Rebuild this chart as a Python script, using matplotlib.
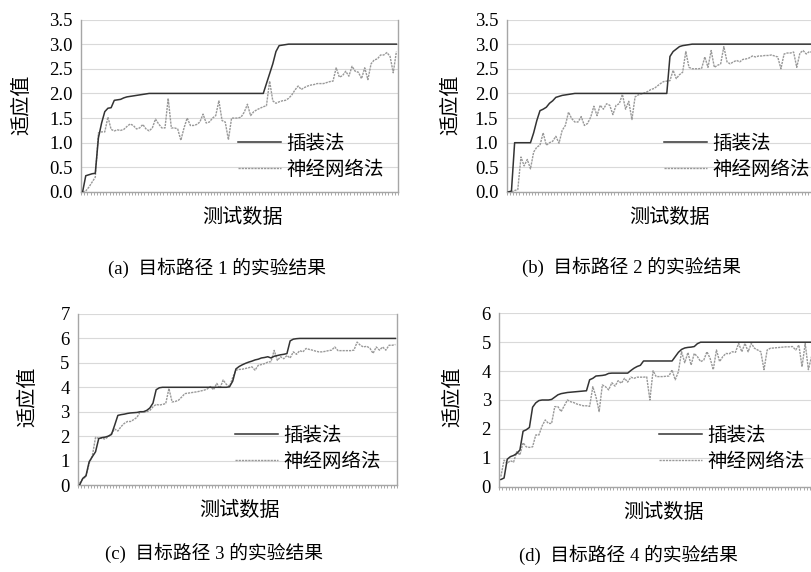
import matplotlib
matplotlib.use("Agg")
import matplotlib.pyplot as plt
import numpy as np
from matplotlib.ticker import FixedLocator

# fitness per test case, path 1
insert_1 = [0.0, 0.33, 0.35, 0.37, 0.38, 1.1, 1.4, 1.63, 1.7, 1.71,
            1.86, 1.87, 1.88, 1.91, 1.93, 1.94, 1.95, 1.96, 1.97, 1.98,
            1.99] + [2.0] * 37 + \
           [2.2, 2.4, 2.6, 2.85, 2.97, 2.98, 2.99] + [3.0] * 35
nn_1 = [0.0, 0.02, 0.1, 0.2, 0.3, 1.2, 1.22, 1.22, 1.52, 1.27,
        1.24, 1.26, 1.25, 1.27, 1.33, 1.38, 1.35, 1.28, 1.3, 1.37,
        1.28, 1.24, 1.3, 1.48, 1.38, 1.3, 1.3, 1.9, 1.3, 1.3,
        1.28, 1.05, 1.3, 1.5, 1.35, 1.35, 1.37, 1.42, 1.58, 1.4,
        1.42, 1.5, 1.55, 1.85, 1.45, 1.42, 1.06, 1.5, 1.5, 1.5,
        1.52, 1.62, 1.78, 1.55, 1.63, 1.67, 1.7, 1.73, 1.75, 2.25,
        1.85, 1.8, 1.83, 1.85, 1.86, 1.9, 1.97, 2.07, 2.15, 2.08,
        2.12, 2.15, 2.17, 2.18, 2.2, 2.2, 2.2, 2.22, 2.24, 2.25,
        2.52, 2.33, 2.36, 2.45, 2.35, 2.55, 2.45, 2.43, 2.3, 2.52,
        2.28, 2.6, 2.68, 2.7, 2.78, 2.78, 2.83, 2.75, 2.42, 2.85]

# path 2
insert_2 = [0.0, 0.02] + [1.0] * 6 + \
           [1.2, 1.45, 1.65, 1.68, 1.72, 1.8, 1.85, 1.92, 1.94, 1.96,
            1.97, 1.98, 1.99] + [2.0] * 30 + \
           [2.75, 2.85, 2.9, 2.95, 2.97, 2.98, 2.99] + [3.0] * 42
nn_2 = [0.0, 0.0, 0.03, 0.05, 0.71, 0.53, 0.66, 0.47, 0.81, 0.91,
        0.95, 1.2, 0.95, 1.0, 1.03, 1.13, 0.99, 1.25, 1.35, 1.62,
        1.49, 1.42, 1.42, 1.53, 1.35, 1.39, 1.52, 1.74, 1.55, 1.76,
        1.68, 1.79, 1.76, 1.57, 1.76, 1.79, 1.98, 1.68, 1.84, 1.47,
        1.93, 1.97, 1.99, 2.01, 2.04, 2.08, 2.1, 2.15, 2.2, 2.24,
        2.25, 2.26, 2.47, 2.3, 2.38, 2.43, 2.85, 2.53, 2.5, 2.5,
        2.5, 2.51, 2.74, 2.53, 2.87, 2.53, 2.57, 2.6, 2.95, 2.64,
        2.6, 2.64, 2.67, 2.64, 2.69, 2.7, 2.72, 2.76, 2.74, 2.76,
        2.76, 2.77, 2.77, 2.78, 2.76, 2.74, 2.5, 2.8, 2.82, 2.82,
        2.84, 2.53, 2.82, 2.87, 2.8, 2.85, 2.83, 2.85, 2.84, 2.86]

# path 3
insert_3 = [0.0, 0.27, 0.38, 0.95, 1.16, 1.36, 1.9, 1.94, 1.96, 2.0,
            2.07, 2.45, 2.85, 2.88, 2.9, 2.93, 2.95, 2.96, 2.97, 3.0,
            3.0, 3.05, 3.15, 3.35, 3.9, 3.98] + [4.0] * 21 + \
           [4.02, 4.25, 4.75, 4.85, 4.92, 4.98, 5.03, 5.07, 5.12, 5.15,
            5.2, 5.22, 5.25, 5.2, 5.27, 5.3, 5.33, 5.35, 5.38, 5.9,
            5.97, 5.99] + [6.0] * 31
nn_3 = [0.07, 0.25, 0.34, 0.89, 1.2, 1.95, 1.91, 1.91, 1.88, 1.98,
        2.11, 2.29, 2.21, 2.39, 2.52, 2.6, 2.6, 2.68, 2.77, 3.0,
        2.97, 3.0, 3.05, 3.2, 3.3, 3.27, 3.3, 3.33, 3.95, 3.4,
        3.42, 3.47, 3.6, 3.74, 3.76, 3.78, 3.8, 3.82, 3.85, 3.88,
        3.93, 4.03, 3.9, 4.16, 3.96, 4.3, 4.12, 4.03, 4.4, 4.7,
        4.73, 4.74, 4.77, 4.8, 4.84, 4.7, 4.9, 4.93, 4.97, 5.03,
        5.05, 5.51, 5.1, 5.25, 5.17, 5.3, 5.2, 5.45, 5.35, 5.5,
        5.45, 5.59, 5.55, 5.52, 5.48, 5.45, 5.45, 5.47, 5.5, 5.52,
        5.65, 5.5, 5.5, 5.5, 5.5, 5.5, 5.52, 5.85, 5.72, 5.65,
        5.68, 5.6, 5.39, 5.65, 5.52, 5.65, 5.52, 5.72, 5.72, 5.75]

# path 4
insert_4 = [0.25, 0.3, 0.95, 1.04, 1.08, 1.15, 1.27, 1.92, 1.97, 2.05,
            2.75, 2.9, 2.98, 3.0, 3.0, 3.0, 3.02, 3.1, 3.18, 3.22,
            3.24, 3.26, 3.27, 3.28, 3.29, 3.3, 3.31, 3.32, 3.7, 3.75,
            3.83, 3.84, 3.85, 3.87, 3.92] + [3.93] * 6 + \
           [4.02, 4.1, 4.16, 4.2] + [4.35] * 10 + \
           [4.5, 4.65, 4.75, 4.8, 4.82, 4.83, 4.85, 4.95] + [5.0] * 37
nn_4 = [0.35, 0.92, 0.81, 0.9, 0.85, 1.21, 1.1, 1.52, 1.38, 1.36,
        1.38, 1.79, 1.79, 2.1, 2.31, 2.19, 2.19, 2.77, 2.77, 2.6,
        2.8, 3.0, 2.94, 2.91, 2.86, 2.83, 2.8, 2.8, 2.78, 3.46,
        3.11, 2.6, 3.52, 3.46, 3.35, 3.6, 3.48, 3.67, 3.58, 3.75,
        3.62, 3.79, 3.75, 3.79, 3.79, 3.79, 3.8, 3.0, 4.01, 3.81,
        3.81, 3.81, 3.82, 3.83, 4.04, 3.7, 3.98, 4.67, 4.29, 4.64,
        4.21, 4.61, 4.5, 4.33, 4.38, 4.67, 4.44, 4.05, 4.73, 4.33,
        4.5, 4.61, 4.6, 4.67, 4.65, 4.96, 4.67, 4.96, 4.67, 4.96,
        4.79, 4.73, 4.67, 4.05, 4.73, 4.79, 4.8, 4.81, 4.82, 4.83,
        4.84, 4.84, 4.85, 4.73, 4.9, 4.15, 4.96, 4.05, 4.5, 4.8]

captions = ["(a)  目标路径 1 的实验结果", "(b)  目标路径 2 的实验结果",
            "(c)  目标路径 3 的实验结果", "(d)  目标路径 4 的实验结果"]
ymax = [3.5, 3.5, 7, 6]
ystep = [0.5, 0.5, 1, 1]
yfmt = ["%.1f", "%.1f", "%d", "%d"]

W, H = 812, 572
# axes boxes in pixels: left, right, top, bottom
boxes = [(81, 398, 19.5, 192), (506.7, 823.7, 19.5, 192),
         (78, 397, 314, 485), (499.3, 816.3, 313.3, 486.7)]
ylab_pos = [(22, 105), (451, 105), (28, 397), (453, 397)]
xlab_pos = [(242, 218), (669, 218), (239, 510), (663, 512)]
cap_pos = [(217, 268), (632, 267), (214, 553), (628, 555)]
leg_pos = [(238, 133), (664, 133), (235, 425), (659, 425)]

cjk = ["Noto Sans CJK SC", "DejaVu Sans"]
serif_cjk = ["Liberation Serif", "Noto Sans CJK SC"]
spine_c = "#a6a6a6"

fig = plt.figure(figsize=(W / 100, H / 100), dpi=100)
series = [(insert_1, nn_1), (insert_2, nn_2), (insert_3, nn_3), (insert_4, nn_4)]

for k, (ins, nn) in enumerate(series):
    l, r, t, b = boxes[k]
    ax = fig.add_axes([l / W, 1 - b / H, (r - l) / W, (b - t) / H])
    n = len(ins)
    x = np.arange(n)
    ax.plot(x, ins, color="#333333", lw=1.1, label="插装法", zorder=3)
    ax.plot(x, nn, color="#999999", lw=1.0, ls=(0, (1.6, 0.7)),
            label="神经网络法", zorder=2)
    ax.set_xlim(-0.5, n - 0.5)
    ax.set_ylim(0, ymax[k])
    yt = np.arange(0, ymax[k] + 1e-9, ystep[k])
    ax.set_yticks(yt)
    ax.set_yticklabels([yfmt[k] % v for v in yt], family="Liberation Serif",
                       fontsize=13.5)
    ax.tick_params(axis="y", length=0, pad=6)
    ax.set_xticks([])
    ax.xaxis.set_minor_locator(FixedLocator(np.arange(-0.5, n, 1.0)))
    ax.tick_params(axis="x", which="minor", length=2.5, width=0.6,
                   color="#9a9a9a", direction="out")
    ax.grid(axis="y", color="#d9d9d9", lw=0.8)
    ax.set_axisbelow(True)
    ax.spines["top"].set_visible(False)
    for s in ["left", "bottom", "right"]:
        ax.spines[s].set_color(spine_c)
        ax.spines[s].set_linewidth(1.0)

    lx, ly = leg_pos[k]
    ax.legend(loc="upper left", bbox_to_anchor=((lx - l) / (r - l), 1 - (ly - t) / (b - t)),
              frameon=False, prop={"family": cjk, "size": 14}, handlelength=2.2,
              handletextpad=0.3, labelspacing=0.25, borderpad=0, borderaxespad=0)

    fig.text(ylab_pos[k][0] / W, 1 - ylab_pos[k][1] / H, "适应值", rotation=90,
             ha="center", va="center", family=cjk, fontsize=14.5)
    fig.text(xlab_pos[k][0] / W, 1 - xlab_pos[k][1] / H, "测试数据",
             ha="center", va="center", family=cjk, fontsize=14.5)
    fig.text(cap_pos[k][0] / W, 1 - cap_pos[k][1] / H, captions[k],
             ha="center", va="center", family=serif_cjk, fontsize=13.5)

fig.savefig("out.png", dpi=100)
